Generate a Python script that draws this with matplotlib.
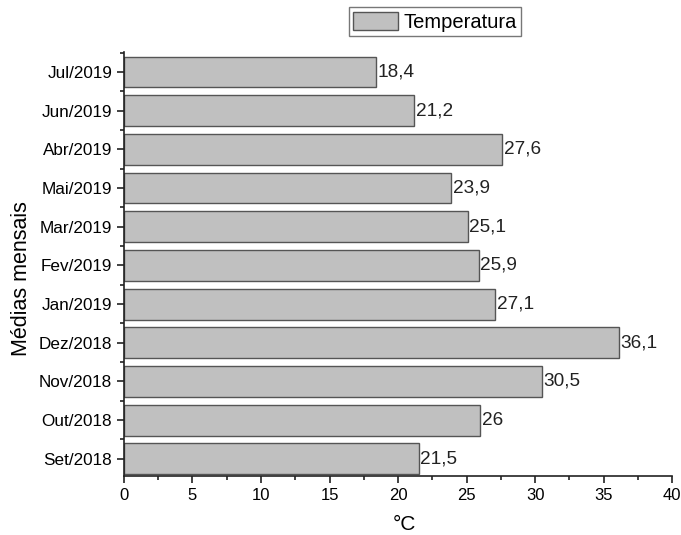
import matplotlib
matplotlib.use("Agg")
import matplotlib.pyplot as plt
from matplotlib.ticker import MultipleLocator, FixedLocator

plt.rcParams['font.family'] = ['Liberation Sans', 'DejaVu Sans']

categories = ["Set/2018", "Out/2018", "Nov/2018", "Dez/2018", "Jan/2019", "Fev/2019",
              "Mar/2019", "Mai/2019", "Abr/2019", "Jun/2019", "Jul/2019"]
values = [21.5, 26, 30.5, 36.1, 27.1, 25.9, 25.1, 23.9, 27.6, 21.2, 18.4]
value_labels = ["21,5", "26", "30,5", "36,1", "27,1", "25,9", "25,1", "23,9", "27,6", "21,2", "18,4"]

fig = plt.figure(figsize=(6.81, 5.35), dpi=100)
ax = fig.add_axes([0.182, 0.110, 0.805, 0.793])

y = list(range(len(categories)))
bars = ax.barh(y, values, height=0.8, color="#c0c0c0", edgecolor="#555555",
               linewidth=1.0, label="Temperatura")
for yi, v, lab in zip(y, values, value_labels):
    ax.text(v + 0.1, yi, lab, va="center", ha="left", fontsize=13.7, color="#222222")

ax.set_xlim(0, 40)
ax.set_ylim(-0.45, 10.52)
ax.set_yticks(y)
ax.set_yticklabels(categories, fontsize=12.3)
ax.yaxis.set_minor_locator(FixedLocator([i + 0.5 for i in range(-1, len(categories))]))
ax.xaxis.set_major_locator(MultipleLocator(5))
ax.xaxis.set_minor_locator(MultipleLocator(2.5))
ax.tick_params(axis='x', labelsize=12)
ax.tick_params(which='major', length=5, width=1.2, color="#222222")
ax.tick_params(which='minor', length=3, width=1.2, color="#222222")

for s in ["top", "right"]:
    ax.spines[s].set_visible(False)
for s in ["left", "bottom"]:
    ax.spines[s].set_linewidth(1.2)
    ax.spines[s].set_color("#222222")

ax.set_xlabel("°C", fontsize=15)
ax.xaxis.set_label_coords(0.511, -0.092)
ax.set_ylabel("Médias mensais", fontsize=15.5)
ax.yaxis.set_label_coords(-0.168, 0.465)

fig.legend(handles=[bars], labels=["Temperatura"], loc="upper left",
           bbox_to_anchor=(0.5125, 0.986), fontsize=14.5, frameon=True, fancybox=False,
           edgecolor="#555555", handlelength=2.25, handleheight=1.05,
           borderpad=0.2, handletextpad=0.25, borderaxespad=0)

fig.savefig("out.png", dpi=100)
